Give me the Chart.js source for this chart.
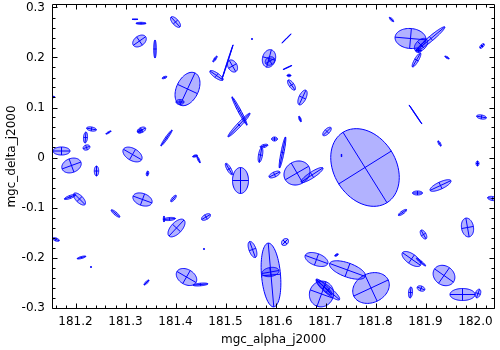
<!DOCTYPE html>
<html>
<head>
<meta charset="utf-8">
<script src="https://cdn.jsdelivr.net/npm/chart.js@4.4.1/dist/chart.umd.min.js"></script>
<style>
  body { margin: 0; background: #fff; }
</style>
</head>
<body>
<canvas id="chart" width="500" height="350"></canvas>
<script>
// error ellipses: centre (deg), semi axes (deg), angle of major axis (deg from +x)
const raVals = [
  181.319, 181.331, 181.400, 181.328, 181.359, 181.378, 181.424, 181.409, 181.156, 181.232,
  181.266, 181.332, 181.329, 181.382, 181.220, 181.222, 181.172, 181.192, 181.314, 181.439,
  181.446, 181.242, 181.344, 181.334, 181.208, 181.189, 181.396, 181.280, 181.388, 181.377,
  181.402, 181.161, 181.212, 181.231, 181.342, 181.422, 181.450, 181.622, 181.553, 181.479,
  181.504, 181.482, 181.514, 181.587, 181.589, 181.624, 181.627, 181.632, 181.654, 181.528,
  181.527, 181.649, 181.703, 181.598, 181.570, 181.577, 181.614, 181.507, 181.530, 181.598,
  181.643, 181.673, 181.779, 181.732, 181.461, 181.457, 181.619, 181.554, 181.591, 181.590,
  181.682, 181.722, 181.744, 181.692, 181.705, 181.697, 181.791, 181.832, 181.870, 181.911,
  181.891, 181.886, 181.882, 182.013, 181.943, 182.041, 181.880, 182.012, 181.928, 182.004,
  181.930, 181.884, 182.034, 181.854, 181.984, 181.896, 181.872, 181.891, 181.937, 181.870,
  181.891, 181.974, 182.005
]
const decVals = [
  0.2764, 0.2684, 0.271, 0.233, 0.217, 0.160, 0.137, 0.111, 0.121, 0.057,
  0.050, 0.055, 0.053, 0.039, 0.040, 0.020, 0.013, -0.016, 0.006, 0.003,
  -0.004, -0.027, -0.032, -0.084, -0.083, -0.079, -0.082, -0.112, -0.123, -0.123,
  -0.141, -0.164, -0.200, -0.219, -0.250, -0.239, -0.254, 0.238, 0.237, 0.197,
  0.191, 0.164, 0.183, 0.198, 0.193, 0.180, 0.164, 0.145, 0.120, 0.093,
  0.065, 0.077, 0.052, 0.037, 0.005, 0.023, 0.010, -0.023, -0.046, -0.034,
  -0.031, -0.035, -0.020, 0.004, -0.119, -0.183, -0.169, -0.184, -0.235, -0.229,
  -0.204, -0.195, -0.225, -0.273, -0.265, -0.259, -0.261, 0.276, 0.238, 0.238,
  0.225, 0.214, 0.195, 0.223, 0.200, 0.189, 0.086, 0.081, 0.028, -0.012,
  -0.056, -0.071, -0.082, -0.110, -0.140, -0.154, -0.203, -0.209, -0.236, -0.270,
  -0.262, -0.274, -0.272
]
const majorAxis = [
  0.006, 0.010, 0.0134, 0.015, 0.018, 0.005, 0.0354, 0.008, 0.003, 0.010,
  0.006, 0.009, 0.005, 0.0194, 0.011, 0.007, 0.017, 0.020, 0.021, 0.005,
  0.0076, 0.010, 0.005, 0.020, 0.0156, 0.012, 0.008, 0.011, 0.012, 0.006,
  0.022, 0.007, 0.009, 0.0012, 0.007, 0.022, 0.015, 0.013, 0.0012, 0.007,
  0.036, 0.016, 0.013, 0.018, 0.010, 0.010, 0.004, 0.012, 0.016, 0.032,
  0.032, 0.006, 0.011, 0.006, 0.015, 0.008, 0.0316, 0.013, 0.026, 0.012,
  0.027, 0.026, 0.083, 0.003, 0.010, 0.0012, 0.008, 0.017, 0.064, 0.017,
  0.024, 0.004, 0.038, 0.026, 0.030, 0.022, 0.038, 0.006, 0.031, 0.036,
  0.016, 0.006, 0.016, 0.006, 0.005, 0.004, 0.023, 0.010, 0.006, 0.005,
  0.023, 0.010, 0.010, 0.010, 0.019, 0.010, 0.022, 0.012, 0.023, 0.011,
  0.008, 0.025, 0.009
]
const minorAxis = [
  0.0006, 0.002, 0.006, 0.010, 0.0026, 0.002, 0.022, 0.005, 0.0014, 0.004,
  0.0014, 0.005, 0.0036, 0.0024, 0.004, 0.005, 0.008, 0.014, 0.012, 0.002,
  0.0016, 0.0044, 0.0024, 0.012, 0.007, 0.003, 0.003, 0.003, 0.003, 0.0014,
  0.011, 0.003, 0.002, 0.0012, 0.002, 0.015, 0.0026, 0.0006, 0.0012, 0.002,
  0.0006, 0.005, 0.009, 0.013, 0.008, 0.0006, 0.0024, 0.005, 0.007, 0.003,
  0.004, 0.002, 0.005, 0.004, 0.004, 0.003, 0.003, 0.004, 0.016, 0.005,
  0.023, 0.006, 0.062, 0.0006, 0.005, 0.0012, 0.006, 0.007, 0.019, 0.009,
  0.012, 0.002, 0.014, 0.024, 0.007, 0.005, 0.029, 0.002, 0.020, 0.005,
  0.010, 0.004, 0.004, 0.003, 0.0016, 0.003, 0.0006, 0.004, 0.002, 0.003,
  0.007, 0.004, 0.004, 0.003, 0.012, 0.005, 0.010, 0.002, 0.019, 0.004,
  0.005, 0.012, 0.005
]
const posAngle = [
  0, 0, -48, 35, 90, 20, 65, 0, 0, -10,
  30, 25, 25, 55, 85, 20, 0, 20, -30, 15,
  -65, 90, 80, -20, -45, 20, 50, -40, 5, 90,
  47, -20, 15, 0, 45, -30, 5, 45, 0, 55,
  72, -35, -60, 75, 30, 25, 0, -55, 65, -62,
  47, -70, 45, 0, 80, 15, 79, -60, 90, 25,
  30, 33, -58, 90, 30, 0, 45, -70, 95, 10,
  -20, 30, -20, 70, -40, -45, 25, -45, -5, 40,
  45, 0, 60, 45, -30, 90, -56, -10, -60, 90,
  25, 0, -10, 35, -80, -60, -35, -40, -35, 85,
  -20, 0, 70
]

const xTicks = [181.2, 181.3, 181.4, 181.5, 181.6, 181.7, 181.8, 181.9, 182.0]
const yTicks = [-0.3, -0.2, -0.1, 0, 0.1, 0.2, 0.3]

const font = { family: 'DejaVu Sans', size: 12 }

const ellipsePlugin = {
  id: 'ellipses',
  afterDatasetsDraw(chart) {
    const { ctx, chartArea: ca, scales: { x, y } } = chart
    ctx.save()
    ctx.beginPath()
    ctx.rect(ca.left, ca.top, ca.right - ca.left, ca.bottom - ca.top)
    ctx.clip()
    ctx.lineWidth = 1
    ctx.strokeStyle = '#0000ff'
    ctx.fillStyle = 'rgba(0, 0, 255, 0.3)'
    raVals.forEach((ra, i) => {
      const dec = decVals[i]
      const t = (posAngle[i] * Math.PI) / 180
      const a = majorAxis[i]
      const b = minorAxis[i]
      const cx = x.getPixelForValue(ra)
      const cy = y.getPixelForValue(dec)
      const ux = x.getPixelForValue(ra + a * Math.cos(t)) - cx
      const uy = y.getPixelForValue(dec + a * Math.sin(t)) - cy
      const vx = x.getPixelForValue(ra - b * Math.sin(t)) - cx
      const vy = y.getPixelForValue(dec + b * Math.cos(t)) - cy
      ctx.beginPath()
      for (let k = 0; k <= 72; k++) {
        const s = (k / 72) * Math.PI * 2
        const px = cx + ux * Math.cos(s) + vx * Math.sin(s)
        const py = cy + uy * Math.cos(s) + vy * Math.sin(s)
        if (k === 0) ctx.moveTo(px, py)
        else ctx.lineTo(px, py)
      }
      ctx.closePath()
      ctx.fill()
      ctx.stroke()
      // cross along both axes
      ctx.beginPath()
      ctx.moveTo(cx - ux, cy - uy)
      ctx.lineTo(cx + ux, cy + uy)
      ctx.moveTo(cx - vx, cy - vy)
      ctx.lineTo(cx + vx, cy + vy)
      ctx.stroke()
    })
    ctx.restore()
  },
  afterDraw(chart) {
    const { ctx, chartArea: ca, scales: { x, y } } = chart
    const L = Math.round(ca.left) + 0.5
    const R = Math.round(ca.right) - 0.5
    const T = Math.round(ca.top) + 0.5
    const B = Math.round(ca.bottom) - 0.5
    ctx.save()
    ctx.strokeStyle = '#000'
    ctx.lineWidth = 1
    ctx.beginPath()
    ctx.rect(L, T, R - L, B - T)
    // minor ticks every 0.02, major every 0.1
    for (let k = Math.ceil(x.min / 0.02); k * 0.02 <= x.max; k++) {
      const px = Math.round(x.getPixelForValue(k * 0.02)) + 0.5
      const len = k % 5 === 0 ? 5 : 3
      ctx.moveTo(px, B); ctx.lineTo(px, B - len)
      ctx.moveTo(px, T); ctx.lineTo(px, T + len)
    }
    for (let k = Math.ceil(y.min / 0.02); k * 0.02 <= y.max; k++) {
      const py = Math.round(y.getPixelForValue(k * 0.02)) + 0.5
      const len = k % 5 === 0 ? 5 : 3
      ctx.moveTo(L, py); ctx.lineTo(L + len, py)
      ctx.moveTo(R, py); ctx.lineTo(R - len, py)
    }
    ctx.stroke()
    ctx.restore()
  },
}

new Chart(document.getElementById('chart'), {
  type: 'scatter',
  data: {
    datasets: [
      {
        data: raVals.map((ra, i) => ({ x: ra, y: decVals[i] })),
        pointRadius: 0,
        pointHoverRadius: 0,
      },
    ],
  },
  options: {
    responsive: false,
    animation: false,
    layout: { padding: { top: 4, right: 5, left: 0, bottom: 0 } },
    plugins: { legend: { display: false }, tooltip: { enabled: false } },
    scales: {
      x: {
        type: 'linear',
        min: 181.153,
        max: 182.039,
        afterFit: (s) => {
          s.height = 41
          s.paddingLeft = 0
          s.paddingRight = 0
        },
        afterBuildTicks: (s) => { s.ticks = xTicks.map((v) => ({ value: v })) },
        grid: { display: false, drawTicks: false },
        border: { display: false },
        ticks: {
          color: '#000',
          font,
          padding: 6,
          maxRotation: 0,
          autoSkip: false,
          callback: (v) => v.toFixed(1),
        },
        title: { display: true, text: 'mgc_alpha_j2000', color: '#000', font, padding: { top: 2, bottom: 3 } },
      },
      y: {
        type: 'linear',
        min: -0.303,
        max: 0.307,
        afterFit: (s) => {
          s.width = 52
          s.paddingTop = 0
          s.paddingBottom = 0
        },
        afterBuildTicks: (s) => { s.ticks = yTicks.map((v) => ({ value: v })) },
        grid: { display: false, drawTicks: false },
        border: { display: false },
        ticks: {
          color: '#000',
          font,
          padding: 7,
          autoSkip: false,
          callback: (v) => (v === 0 ? '0' : v.toFixed(1)),
        },
        title: { display: true, text: 'mgc_delta_j2000', color: '#000', font, padding: { top: 5, bottom: 3 } },
      },
    },
  },
  plugins: [ellipsePlugin],
})
</script>
</body>
</html>
